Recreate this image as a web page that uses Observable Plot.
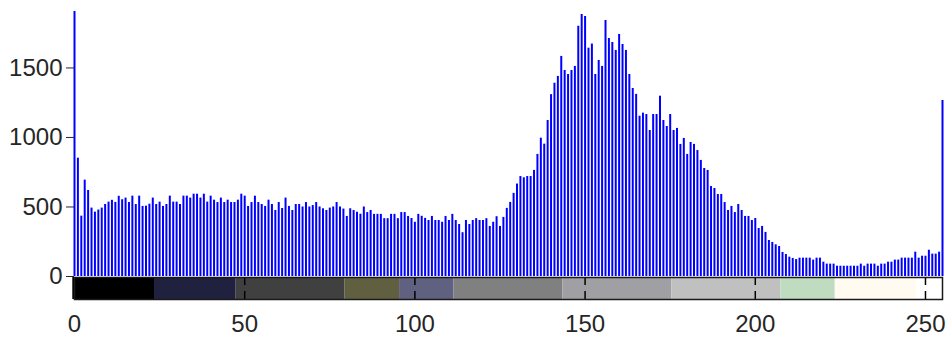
<!DOCTYPE html>
<html>
<head>
<meta charset="utf-8">
<script src="https://cdn.jsdelivr.net/npm/d3@7"></script>
<script src="https://cdn.jsdelivr.net/npm/@observablehq/plot@0.6"></script>
<style>
  html, body { margin: 0; padding: 0; background: #ffffff; }
  #chart svg { display: block; }
</style>
</head>
<body>
<div id="chart"></div>
<script>
// Histogram counts for grey levels 0..255
const counts = [
  1906, 851, 434, 693, 619, 492, 463, 478, 492, 518,
  535, 548, 533, 577, 552, 564, 532, 578, 518, 578,
  504, 506, 520, 564, 518, 535, 504, 518, 578, 535,
  535, 518, 578, 578, 564, 592, 592, 564, 592, 535,
  578, 549, 532, 564, 532, 549, 532, 532, 549, 592,
  578, 504, 532, 578, 532, 518, 504, 549, 518, 475,
  532, 489, 564, 504, 475, 518, 518, 500, 532, 500,
  510, 532, 500, 487, 475, 492, 500, 532, 500, 485,
  432, 487, 475, 462, 448, 500, 460, 475, 447, 447,
  447, 416, 416, 447, 447, 416, 460, 460, 432, 417,
  390, 447, 433, 418, 403, 432, 403, 403, 390, 432,
  403, 447, 403, 374, 315, 403, 374, 403, 416, 403,
  403, 416, 360, 390, 430, 360, 425, 490, 533, 598,
  665, 719, 710, 719, 719, 763, 878, 995, 952, 1122,
  1308, 1390, 1439, 1583, 1482, 1453, 1482, 1511, 1800, 1885,
  1870, 1642, 1672, 1453, 1554, 1511, 1842, 1712, 1683, 1626,
  1741, 1669, 1626, 1453, 1352, 1310, 1153, 1175, 1165, 1050,
  1165, 1165, 1297, 1122, 1079, 1165, 1050, 1065, 950, 993,
  878, 964, 950, 906, 835, 777, 763, 647, 633, 590,
  590, 532, 475, 504, 460, 518, 475, 432, 432, 403,
  417, 345, 360, 317, 259, 245, 228, 216, 173, 158,
  139, 130, 122, 132, 132, 132, 132, 118, 132, 132,
  103, 89, 89, 89, 74, 74, 74, 74, 74, 74,
  74, 89, 74, 89, 89, 89, 74, 89, 89, 103,
  103, 118, 118, 132, 132, 132, 132, 175, 132, 146,
  146, 189, 161, 161, 175, 1266
];
const levels = counts.map((_, i) => i);

// Colormap bands shown in the colour bar
const bandStart = [-0.5, 23.5, 47.5, 79.5, 95.5, 111.5, 143.5, 175.5, 207.5, 223.5, 247.5];
const bandEnd   = [23.5, 47.5, 79.5, 95.5, 111.5, 143.5, 175.5, 207.5, 223.5, 247.5, 255];
const bandColor = ["#000000", "#20203f", "#404040", "#606040", "#606080", "#808080",
                   "#a0a0a4", "#c0c0c0", "#c0dcc0", "#fffbf0", "#ffffff"];

const xTicks = [0, 50, 100, 150, 200, 250];
const yTicks = [0, 500, 1000, 1500];

const histData = levels.map((lv, i) => ({level: lv, count: counts[i]}));
const bands = bandStart.map((s, i) => ({x1: s, x2: bandEnd[i], color: bandColor[i]}));

const W = 947;
const ML = 74, MR = 5;
const font = {fontFamily: "'Liberation Sans', Arial, Helvetica, sans-serif", fontSize: "24px", color: "#262626", background: "#ffffff", overflow: "visible"};

const hist = Plot.plot({
  width: W,
  height: 277,
  marginLeft: ML,
  marginRight: MR,
  marginTop: 11,
  marginBottom: 1,
  style: font,
  x: {domain: [0, 255], axis: null},
  y: {domain: [0, d3.max(counts)], label: null},
  marks: [
    Plot.ruleX(histData, {x: "level", y1: 0, y2: "count", stroke: "#0000ff", strokeWidth: 2}),
    Plot.axisY({ticks: yTicks, tickSize: 8, tickPadding: 4, label: null, tickFormat: d => String(d)})
  ]
});

const bar = Plot.plot({
  width: W,
  height: 62,
  marginLeft: ML,
  marginRight: MR,
  marginTop: 0,
  marginBottom: 40,
  style: font,
  x: {domain: [0, 255], label: null},
  y: {axis: null, domain: [0, 1]},
  color: {type: "identity"},
  marks: [
    Plot.rect(bands, {x1: "x1", x2: "x2", y1: 0, y2: 1, fill: "color"}),
    Plot.tickX(xTicks, {x: d => d, stroke: "#000000", strokeWidth: 1.5, insetTop: 14}),
    Plot.tickX(xTicks, {x: d => d, stroke: "#000000", strokeWidth: 1.5, insetBottom: 14}),
    Plot.frame({stroke: "#1a1a1a", strokeWidth: 1.5}),
    Plot.axisX({ticks: xTicks, tickSize: 0, tickPadding: 15, label: null, tickFormat: d => String(d)})
  ]
});

const chart = document.getElementById("chart");
chart.appendChild(hist);
chart.appendChild(bar);
</script>
</body>
</html>
